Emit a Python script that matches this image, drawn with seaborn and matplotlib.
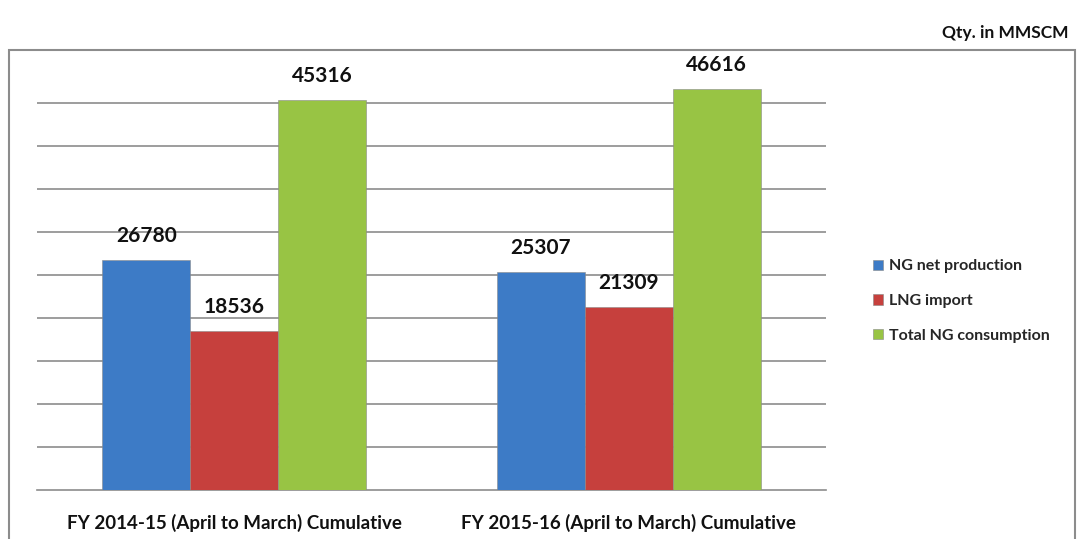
import matplotlib
matplotlib.use("Agg")
import matplotlib.pyplot as plt
import matplotlib.patches as mpatches
import seaborn as sns
import pandas as pd

categories = ["FY 2014-15 (April to March) Cumulative", "FY 2015-16 (April to March) Cumulative"]
series = ["NG net production", "LNG import", "Total NG consumption"]
ng_net_production = [26780, 25307]
lng_import = [18536, 21309]
total_ng_consumption = [45316, 46616]
colors = ["#3D7BC6", "#C6403D", "#98C444"]

rows = []
for s, vals in zip(series, [ng_net_production, lng_import, total_ng_consumption]):
    for c, v in zip(categories, vals):
        rows.append({"cat": c, "series": s, "value": v})
df = pd.DataFrame(rows)

sns.set_style("white")
plt.rcParams["font.family"] = ["Lato", "DejaVu Sans"]

fig = plt.figure(figsize=(10.78, 5.39), dpi=100)
ax = fig.add_axes([37/1078, 49/539, 789/1078, 430/539])

sns.barplot(data=df, x="cat", y="value", hue="series", palette=colors,
            width=0.67, ax=ax, saturation=1, edgecolor="#8a8a8a", linewidth=0.4,
            zorder=3)

ax.set_ylim(0, 50000)
ax.set_xlim(-0.5, 1.5)
ax.set_yticks(range(5000, 50000, 5000))
ax.yaxis.grid(True, color="#8c8c8c", linewidth=1.2, zorder=0)
ax.set_axisbelow(True)
ax.tick_params(axis="y", length=0, labelleft=False)
ax.set_xlabel("")
ax.set_ylabel("")
for sp in ["top", "right", "left"]:
    ax.spines[sp].set_visible(False)
ax.spines["bottom"].set_color("#8c8c8c")
ax.spines["bottom"].set_linewidth(1.2)
ax.set_xticks([-0.5, 0.5, 1.5], minor=True)
ax.tick_params(axis="x", which="minor", length=5, color="#8c8c8c", width=1.2, direction="out")
ax.tick_params(axis="x", which="major", length=0, pad=17)
for lab in ax.get_xticklabels():
    lab.set_fontweight("bold")
    lab.set_fontsize(13.5)
    lab.set_color("#111111")

for cont in ax.containers:
    ax.bar_label(cont, fmt="%d", padding=10, fontsize=15, fontweight="bold", color="#111111")

handles = [mpatches.Patch(facecolor=c, edgecolor="#888888", linewidth=0.4) for c in colors]
ax.legend(handles, series, loc="upper left", bbox_to_anchor=(859/1078, 1-245/539),
          bbox_transform=fig.transFigure, frameon=False, handlelength=0.6, handleheight=0.6,
          handletextpad=0.4, labelspacing=1.3, prop={"weight": "bold", "size": 11.5})

fig.patches.append(mpatches.Rectangle((9/1078, -0.01), 1066/1078, 1 - 50/539 + 0.01,
                                      transform=fig.transFigure, fill=False,
                                      edgecolor="#8c8c8c", linewidth=1.5))
fig.text(1068/1078, 1-33/539, "Qty. in MMSCM", ha="right", va="center",
         fontsize=12.5, fontweight="bold", color="#111111")

fig.savefig("out.png", dpi=100)
